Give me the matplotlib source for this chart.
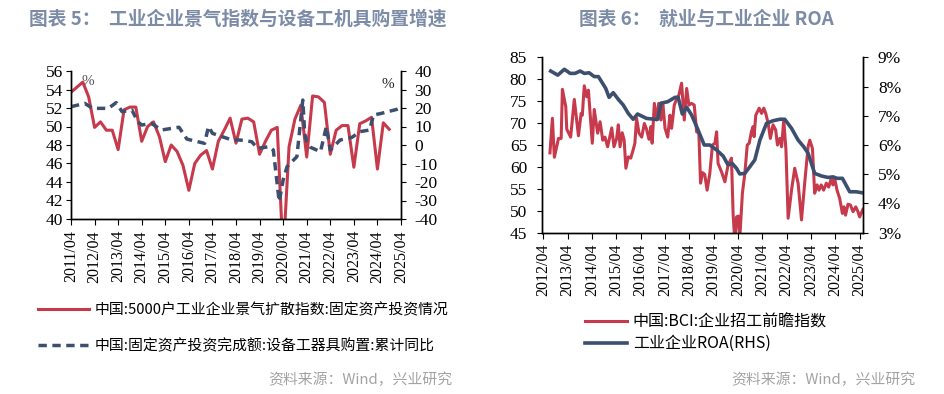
import pandas as pd
import matplotlib.pyplot as plt
from matplotlib.lines import Line2D

plt.rcParams['axes.unicode_minus'] = False

CJK = ['Noto Sans CJK SC', 'DejaVu Sans']
SERIF = 'Liberation Serif'
RED = '#c73a4c'
BLUE = '#3d4f6f'
TITLE_C = '#7d8ca6'
SRC_C = '#a3a3a3'

# ---- chart 5: quarterly diffusion index (left) + equipment purchase yoy (right)
idx_start = '2011-04'
idx_vals = [53.7, 54.25, 54.8, 53.2, 49.9, 50.5, 49.6, 49.6, 47.5, 51.8,
            52.1, 52.1, 48.4, 50.0, 50.5, 48.9, 46.2, 48.0, 47.3, 45.8,
            43.1, 46.0, 46.9, 47.4, 45.4, 48.4, 49.6, 50.9, 48.2, 50.8,
            50.9, 50.5, 47.0, 48.4, 49.6, 49.9, 36.0, 47.8, 50.8, 52.3,
            46.7, 53.3, 53.2, 52.6, 47.0, 49.6, 50.1, 50.1, 45.6, 50.3,
            50.6, 51.0, 45.4, 50.4, 49.7]

equip_dates = ['2011-04', '2011-11', '2012-03', '2012-11', '2013-03', '2013-06',
               '2013-11', '2014-02', '2014-04', '2014-09', '2015-02', '2015-11',
               '2016-03', '2016-12', '2017-02', '2017-04', '2018-02', '2018-06',
               '2018-12', '2019-03', '2019-09', '2019-11', '2020-02', '2020-04',
               '2020-06', '2020-11', '2021-02', '2021-03', '2021-04', '2021-06',
               '2021-11', '2022-02', '2022-04', '2022-09', '2023-03', '2023-07',
               '2023-12', '2024-02', '2024-06', '2025-02', '2025-03']
equip_vals = [20.7, 22.5, 19.8, 19.8, 22.9, 18.0,
              18.9, 12.6, 10.8, 11.7, 8.1, 9.6,
              3.2, 0.9, 10.0, 6.3, 2.7, 2.7,
              1.8, -1.8, -0.9, -2.7, -30.6, -18.9,
              -11.7, -6.3, 24.3, 6.0, 1.8, -1.3,
              -3.6, 9.9, -2.7, 2.7, 4.1, 7.2,
              8.1, 16.2, 17.1, 19.3, 19.8]

# ---- chart 6: BCI hiring index (left) + industrial ROA % (right)
bci_t = [2012.52, 2012.62, 2012.70, 2012.87, 2012.98, 2013.03, 2013.17, 2013.21, 2013.37, 2013.52,
         2013.69, 2013.80, 2013.85, 2013.93, 2014.03, 2014.10, 2014.26, 2014.34, 2014.48, 2014.58,
         2014.69, 2014.78, 2014.89, 2015.06, 2015.15, 2015.26, 2015.33, 2015.40, 2015.49, 2015.57,
         2015.64, 2015.74, 2015.84, 2015.94, 2016.01, 2016.08, 2016.18, 2016.29, 2016.40, 2016.49,
         2016.59, 2016.67, 2016.72, 2016.81, 2016.90, 2016.99, 2017.08, 2017.16, 2017.25, 2017.36,
         2017.45, 2017.52, 2017.63, 2017.72, 2017.82, 2017.93, 2018.04, 2018.14, 2018.23, 2018.34,
         2018.45, 2018.55, 2018.64, 2018.71, 2018.79, 2018.88, 2018.98, 2019.09, 2019.20, 2019.30,
         2019.37, 2019.43, 2019.57, 2019.71, 2019.84, 2019.98, 2020.05, 2020.12, 2020.19, 2020.26,
         2020.32, 2020.43, 2020.53, 2020.63, 2020.71, 2020.80, 2020.87, 2020.91, 2020.98, 2021.12,
         2021.22, 2021.31, 2021.39, 2021.49, 2021.58, 2021.69, 2021.80, 2021.87, 2021.97, 2022.04,
         2022.13, 2022.22, 2022.31, 2022.45, 2022.58, 2022.72, 2022.86, 2022.99, 2023.13, 2023.20,
         2023.31, 2023.40, 2023.50, 2023.58, 2023.67, 2023.77, 2023.88, 2023.98, 2024.08, 2024.15,
         2024.22, 2024.32, 2024.43, 2024.54, 2024.60, 2024.67, 2024.77, 2024.87, 2024.98, 2025.09,
         2025.18, 2025.25, 2025.38]
bci_v = [63.2, 71.1, 62.2, 66.5, 66.5, 77.7, 73.7, 68.6, 66.8, 75.4,
         67.1, 72.2, 71.8, 78.5, 76.0, 77.5, 65.4, 73.1, 67.7, 70.3,
         66.1, 66.8, 64.6, 68.9, 64.6, 66.5, 69.6, 64.6, 67.8, 66.1,
         59.7, 62.3, 62.0, 63.9, 65.4, 71.1, 67.7, 66.8, 69.9, 68.6,
         66.3, 69.2, 65.4, 74.5, 70.7, 74.5, 70.7, 74.5, 68.8, 66.8,
         71.8, 68.8, 74.1, 75.4, 76.4, 79.1, 70.7, 77.9, 74.1, 74.5,
         74.1, 68.0, 67.7, 56.3, 58.7, 58.3, 54.7, 58.5, 65.0, 65.4,
         68.0, 60.8, 58.9, 56.6, 60.4, 62.0, 49.0, 43.0, 48.6, 48.8,
         43.5, 54.0, 58.5, 65.0, 65.4, 68.0, 69.2, 66.9, 71.8, 73.4,
         72.2, 73.4, 72.2, 69.9, 66.5, 69.6, 68.4, 65.0, 66.5, 64.6,
         70.7, 63.9, 48.3, 54.7, 59.7, 56.3, 47.9, 56.3, 64.6, 66.1,
         64.2, 54.0, 55.9, 54.7, 55.9, 54.7, 56.3, 55.4, 57.4, 55.9,
         57.4, 54.7, 52.8, 49.4, 50.9, 49.0, 51.5, 51.3, 49.8, 50.9,
         49.8, 48.6, 50.3]

roa_t = [2012.55, 2012.84, 2013.11, 2013.35, 2013.55, 2013.76, 2013.93, 2014.13, 2014.34, 2014.51,
         2014.81, 2014.95, 2015.12, 2015.33, 2015.53, 2015.74, 2015.94, 2016.12, 2016.29, 2016.49,
         2016.84, 2016.95, 2017.08, 2017.36, 2017.66, 2017.79, 2017.96, 2018.14, 2018.34, 2018.61,
         2018.86, 2019.09, 2019.37, 2019.64, 2019.84, 2020.01, 2020.19, 2020.32, 2020.53, 2020.74,
         2020.94, 2021.15, 2021.42, 2021.69, 2021.97, 2022.17, 2022.45, 2022.72, 2022.95, 2023.13,
         2023.40, 2023.68, 2023.95, 2024.16, 2024.32, 2024.54, 2024.84, 2025.11, 2025.32]
roa_v = [8.53, 8.39, 8.59, 8.45, 8.45, 8.53, 8.45, 8.47, 8.34, 8.34,
         7.94, 7.63, 7.79, 7.56, 7.37, 7.08, 6.88, 7.06, 6.99, 6.91,
         6.88, 6.88, 7.43, 7.48, 7.63, 7.63, 7.06, 7.29, 7.03, 6.51,
         6.00, 6.00, 5.83, 5.62, 5.32, 5.37, 5.20, 5.01, 5.03, 5.26,
         5.49, 6.17, 6.74, 6.83, 6.88, 6.88, 6.57, 6.17, 5.94, 5.72,
         5.03, 4.94, 4.89, 4.91, 4.86, 4.86, 4.40, 4.40, 4.37]


def to_year(ds):
    d = pd.to_datetime(ds)
    return d.year + (d.month - 1) / 12.0


idx_t = to_year(pd.date_range(idx_start, periods=len(idx_vals), freq='3MS'))
equip_t = to_year(equip_dates)

fig = plt.figure(figsize=(9.45, 3.94), dpi=100)


def style_axes(ax, ax2, years, lpad, rpad):
    for a in (ax, ax2):
        a.spines['top'].set_visible(False)
        for s in a.spines.values():
            s.set_linewidth(1.0)
    ax.set_xticks([y + 0.25 for y in years])
    ax.set_xticklabels([f'{y}/04' for y in years], rotation=90,
                       fontfamily=SERIF, fontsize=11.5)
    ax.tick_params(axis='x', direction='out', length=4, pad=4)
    ax.tick_params(axis='y', direction='out', length=3.5, pad=lpad,
                   labelsize=12.5)
    ax2.tick_params(axis='y', direction='out', length=3.5, pad=rpad,
                    labelsize=12.5)
    for lab in ax.get_yticklabels() + ax2.get_yticklabels():
        lab.set_fontfamily(SERIF)


# left chart
ax = fig.add_axes([71 / 945, 1 - 219 / 394, 330 / 945, 148 / 394])
ax2 = ax.twinx()
ax.plot(idx_t, idx_vals, color=RED, lw=2.2)
ax2.plot(equip_t, equip_vals, color=BLUE, lw=2.5, dashes=(2.4, 1.6))
ax.set_xlim(2011.25, 2025.25)
ax.set_ylim(40, 56)
ax.set_yticks(range(40, 57, 2))
ax2.set_ylim(-40, 40)
ax2.set_yticks(range(-40, 41, 10))
style_axes(ax, ax2, range(2011, 2026), 2, 6)
ax.text(0.05, 0.93, '%', transform=ax.transAxes, fontfamily=SERIF,
        fontsize=11, color='#555555', ha='center', va='center')
ax.text(0.96, 0.91, '%', transform=ax.transAxes, fontfamily=SERIF,
        fontsize=11, color='#222222', ha='center', va='center')

# right chart
bx = fig.add_axes([541.7 / 945, 1 - 232.7 / 394, 321.6 / 945, 175.4 / 394])
bx2 = bx.twinx()
bx.plot(bci_t, bci_v, color=RED, lw=2.2)
bx2.plot(roa_t, roa_v, color=BLUE, lw=2.6)
bx.set_xlim(2012.18, 2025.4)
bx.set_ylim(45, 85)
bx.set_yticks(range(45, 86, 5))
bx2.set_ylim(3, 9)
bx2.set_yticks(range(3, 10))
bx2.set_yticklabels([f'{v}%' for v in range(3, 10)])
style_axes(bx, bx2, range(2012, 2026), 7, 7)

# titles
fig.text(238 / 945, 1 - 19 / 394, '图表 5：  工业企业景气指数与设备工机具购置增速',
         family=CJK, fontsize=13.5, fontweight='bold', color=TITLE_C,
         ha='center', va='center')
fig.text(706 / 945, 1 - 19 / 394, '图表 6：  就业与工业企业 ROA',
         family=CJK, fontsize=13.5, fontweight='bold', color=TITLE_C,
         ha='center', va='center')

# legends
h1 = [Line2D([], [], color=RED, lw=2.2),
      Line2D([], [], color=BLUE, lw=2.5, dashes=(2.4, 1.6))]
leg1 = fig.legend(h1, ['中国:5000户工业企业景气扩散指数:固定资产投资情况',
                       '中国:固定资产投资完成额:设备工器具购置:累计同比'],
                  loc='center left', bbox_to_anchor=(38 / 945, 1 - 328.3 / 394),
                  frameon=False, handlelength=3.4, handletextpad=0.4,
                  labelspacing=1.45, borderpad=0, borderaxespad=0,
                  prop={'family': CJK, 'size': 10.7})
h2 = [Line2D([], [], color=RED, lw=2.2), Line2D([], [], color=BLUE, lw=2.6)]
leg2 = fig.legend(h2, ['中国:BCI:企业招工前瞻指数', '工业企业ROA(RHS)'],
                  loc='center left', bbox_to_anchor=(585 / 945, 1 - 332.9 / 394),
                  frameon=False, handlelength=2.6, handletextpad=0.4,
                  labelspacing=0.3, borderpad=0, borderaxespad=0,
                  prop={'family': CJK, 'size': 11.5})

# sources
fig.text(452 / 945, 1 - 380 / 394, '资料来源：Wind，兴业研究', family=CJK,
         fontsize=10.7, color=SRC_C, ha='right', va='center')
fig.text(915 / 945, 1 - 380 / 394, '资料来源：Wind，兴业研究', family=CJK,
         fontsize=10.7, color=SRC_C, ha='right', va='center')

fig.savefig('out.png', dpi=100)
